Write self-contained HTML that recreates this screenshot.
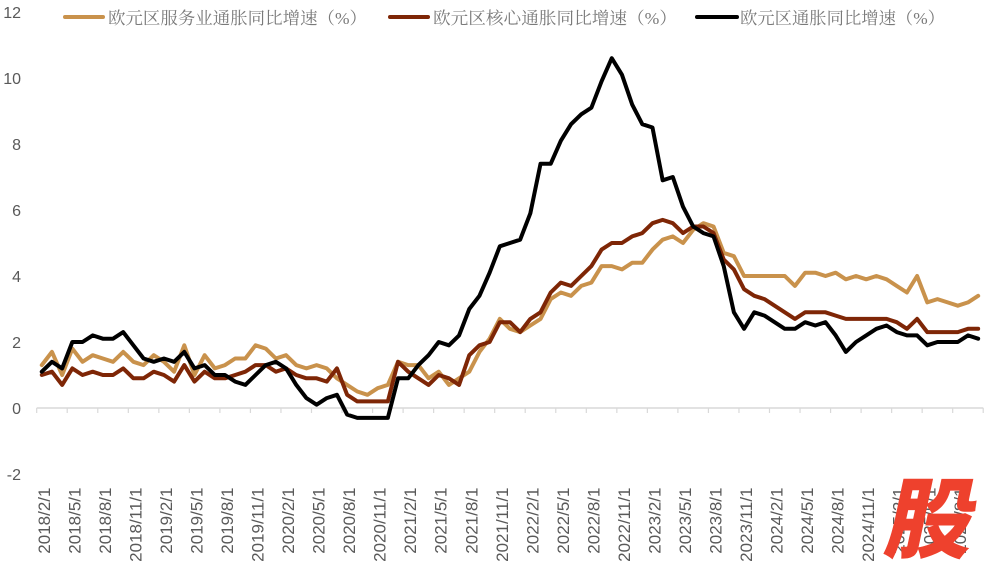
<!DOCTYPE html>
<html>
<head>
<meta charset="utf-8">
<style>
  html, body { margin: 0; padding: 0; background: #ffffff; }
  body { width: 989px; height: 570px; overflow: hidden; }
  svg { display: block; }
</style>
</head>
<body>
<svg width="989" height="570" viewBox="0 0 989 570" xmlns="http://www.w3.org/2000/svg">
  <rect x="0" y="0" width="989" height="570" fill="#ffffff"/>

  <!-- Y axis labels -->
  <g font-family="Liberation Sans, sans-serif" font-size="16" fill="#595959" text-anchor="end">
    <text x="21" y="18">12</text>
    <text x="21" y="84">10</text>
    <text x="21" y="150">8</text>
    <text x="21" y="216">6</text>
    <text x="21" y="282">4</text>
    <text x="21" y="348">2</text>
    <text x="21" y="414">0</text>
    <text x="21" y="480">-2</text>
  </g>

  <!-- X axis line and ticks -->
  <line x1="36.7" y1="408" x2="983.3" y2="408" stroke="#d9d9d9" stroke-width="1.5"/>
  <path stroke="#d9d9d9" stroke-width="1.2" fill="none"
    d="M36.7,408v5 M67.23,408v5 M97.77,408v5 M128.3,408v5 M158.83,408v5 M189.37,408v5 M219.9,408v5 M250.43,408v5 M280.97,408v5 M311.5,408v5 M342.03,408v5 M372.57,408v5 M403.1,408v5 M433.63,408v5 M464.17,408v5 M494.7,408v5 M525.23,408v5 M555.77,408v5 M586.3,408v5 M616.83,408v5 M647.37,408v5 M677.9,408v5 M708.43,408v5 M738.97,408v5 M769.5,408v5 M800.03,408v5 M830.57,408v5 M861.1,408v5 M891.63,408v5 M922.17,408v5 M952.7,408v5 M983.23,408v5"/>

  <!-- X axis labels -->
  <g font-family="Liberation Sans, sans-serif" font-size="17" fill="#595959" text-anchor="end">
    <text transform="translate(49.79,487.5) rotate(-90)">2018/2/1</text>
    <text transform="translate(80.32,487.5) rotate(-90)">2018/5/1</text>
    <text transform="translate(110.86,487.5) rotate(-90)">2018/8/1</text>
    <text transform="translate(141.39,487.5) rotate(-90)">2018/11/1</text>
    <text transform="translate(171.93,487.5) rotate(-90)">2019/2/1</text>
    <text transform="translate(202.46,487.5) rotate(-90)">2019/5/1</text>
    <text transform="translate(232.99,487.5) rotate(-90)">2019/8/1</text>
    <text transform="translate(263.53,487.5) rotate(-90)">2019/11/1</text>
    <text transform="translate(294.06,487.5) rotate(-90)">2020/2/1</text>
    <text transform="translate(324.60,487.5) rotate(-90)">2020/5/1</text>
    <text transform="translate(355.13,487.5) rotate(-90)">2020/8/1</text>
    <text transform="translate(385.66,487.5) rotate(-90)">2020/11/1</text>
    <text transform="translate(416.20,487.5) rotate(-90)">2021/2/1</text>
    <text transform="translate(446.73,487.5) rotate(-90)">2021/5/1</text>
    <text transform="translate(477.27,487.5) rotate(-90)">2021/8/1</text>
    <text transform="translate(507.80,487.5) rotate(-90)">2021/11/1</text>
    <text transform="translate(538.33,487.5) rotate(-90)">2022/2/1</text>
    <text transform="translate(568.87,487.5) rotate(-90)">2022/5/1</text>
    <text transform="translate(599.40,487.5) rotate(-90)">2022/8/1</text>
    <text transform="translate(629.94,487.5) rotate(-90)">2022/11/1</text>
    <text transform="translate(660.47,487.5) rotate(-90)">2023/2/1</text>
    <text transform="translate(691.00,487.5) rotate(-90)">2023/5/1</text>
    <text transform="translate(721.54,487.5) rotate(-90)">2023/8/1</text>
    <text transform="translate(752.07,487.5) rotate(-90)">2023/11/1</text>
    <text transform="translate(782.61,487.5) rotate(-90)">2024/2/1</text>
    <text transform="translate(813.14,487.5) rotate(-90)">2024/5/1</text>
    <text transform="translate(843.67,487.5) rotate(-90)">2024/8/1</text>
    <text transform="translate(874.21,487.5) rotate(-90)">2024/11/1</text>
    <text transform="translate(904.74,487.5) rotate(-90)">2025/2/1</text>
    <text transform="translate(935.28,487.5) rotate(-90)">2025/5/1</text>
    <text transform="translate(965.81,487.5) rotate(-90)">2025/8/1</text>
  </g>

  <!-- Series (data coords: x = month index, y = value) -->
  <g transform="matrix(10.178 0 0 -33 41.79 408)" fill="none" stroke-linejoin="round" stroke-linecap="round">
    <!-- Services -->
    <polyline vector-effect="non-scaling-stroke" stroke="#C9924C" stroke-width="4"
      points="0,1.3 1,1.7 2,1.0 3,1.8 4,1.4 5,1.6 6,1.5 7,1.4 8,1.7 9,1.4 10,1.3 11,1.6 12,1.4 13,1.1 14,1.9 15,1.0 16,1.6 17,1.2 18,1.3 19,1.5 20,1.5 21,1.9 22,1.8 23,1.5 24,1.6 25,1.3 26,1.2 27,1.3 28,1.2 29,0.9 30,0.7 31,0.5 32,0.4 33,0.6 34,0.7 35,1.4 36,1.3 37,1.3 38,0.9 39,1.1 40,0.7 41,0.9 42,1.1 43,1.7 44,2.1 45,2.7 46,2.4 47,2.3 48,2.5 49,2.7 50,3.3 51,3.5 52,3.4 53,3.7 54,3.8 55,4.3 56,4.3 57,4.2 58,4.4 59,4.4 60,4.8 61,5.1 62,5.2 63,5.0 64,5.4 65,5.6 66,5.5 67,4.7 68,4.6 69,4.0 70,4.0 71,4.0 72,4.0 73,4.0 74,3.7 75,4.1 76,4.1 77,4.0 78,4.1 79,3.9 80,4.0 81,3.9 82,4.0 83,3.9 84,3.7 85,3.5 86,4.0 87,3.2 88,3.3 89,3.2 90,3.1 91,3.2 92,3.4"/>
    <!-- Core -->
    <polyline vector-effect="non-scaling-stroke" stroke="#7E2606" stroke-width="4"
      points="0,1.0 1,1.1 2,0.7 3,1.2 4,1.0 5,1.1 6,1.0 7,1.0 8,1.2 9,0.9 10,0.9 11,1.1 12,1.0 13,0.8 14,1.3 15,0.8 16,1.1 17,0.9 18,0.9 19,1.0 20,1.1 21,1.3 22,1.3 23,1.1 24,1.2 25,1.0 26,0.9 27,0.9 28,0.8 29,1.2 30,0.4 31,0.2 32,0.2 33,0.2 34,0.2 35,1.4 36,1.1 37,0.9 38,0.7 39,1.0 40,0.9 41,0.7 42,1.6 43,1.9 44,2.0 45,2.6 46,2.6 47,2.3 48,2.7 49,2.9 50,3.5 51,3.8 52,3.7 53,4.0 54,4.3 55,4.8 56,5.0 57,5.0 58,5.2 59,5.3 60,5.6 61,5.7 62,5.6 63,5.3 64,5.5 65,5.5 66,5.3 67,4.5 68,4.2 69,3.6 70,3.4 71,3.3 72,3.1 73,2.9 74,2.7 75,2.9 76,2.9 77,2.9 78,2.8 79,2.7 80,2.7 81,2.7 82,2.7 83,2.7 84,2.6 85,2.4 86,2.7 87,2.3 88,2.3 89,2.3 90,2.3 91,2.4 92,2.4"/>
    <!-- Headline -->
    <polyline vector-effect="non-scaling-stroke" stroke="#000000" stroke-width="4"
      points="0,1.1 1,1.4 2,1.2 3,2.0 4,2.0 5,2.2 6,2.1 7,2.1 8,2.3 9,1.9 10,1.5 11,1.4 12,1.5 13,1.4 14,1.7 15,1.2 16,1.3 17,1.0 18,1.0 19,0.8 20,0.7 21,1.0 22,1.3 23,1.4 24,1.2 25,0.7 26,0.3 27,0.1 28,0.3 29,0.4 30,-0.2 31,-0.3 32,-0.3 33,-0.3 34,-0.3 35,0.9 36,0.9 37,1.3 38,1.6 39,2.0 40,1.9 41,2.2 42,3.0 43,3.4 44,4.1 45,4.9 46,5.0 47,5.1 48,5.9 49,7.4 50,7.4 51,8.1 52,8.6 53,8.9 54,9.1 55,9.9 56,10.6 57,10.1 58,9.2 59,8.6 60,8.5 61,6.9 62,7.0 63,6.1 64,5.5 65,5.3 66,5.2 67,4.3 68,2.9 69,2.4 70,2.9 71,2.8 72,2.6 73,2.4 74,2.4 75,2.6 76,2.5 77,2.6 78,2.2 79,1.7 80,2.0 81,2.2 82,2.4 83,2.5 84,2.3 85,2.2 86,2.2 87,1.9 88,2.0 89,2.0 90,2.0 91,2.2 92,2.1"/>
  </g>

  <!-- Legend -->
  <g stroke-width="4" stroke-linecap="round">
    <line x1="65" y1="17" x2="103" y2="17" stroke="#C9924C"/>
    <line x1="390" y1="17" x2="428" y2="17" stroke="#7E2606"/>
    <line x1="697" y1="17" x2="737" y2="17" stroke="#000000"/>
  </g>
  <g font-family="Liberation Serif, 'Noto Serif CJK SC', 'Noto Sans CJK SC', serif" font-size="17" fill="#7a7a7a">
    <text x="108" y="24" textLength="259" lengthAdjust="spacingAndGlyphs">欧元区服务业通胀同比增速（%）</text>
    <text x="433" y="24" textLength="244" lengthAdjust="spacingAndGlyphs">欧元区核心通胀同比增速（%）</text>
    <text x="740" y="24" textLength="205" lengthAdjust="spacingAndGlyphs">欧元区通胀同比增速（%）</text>
  </g>

  <!-- Watermark -->
  <g transform="translate(926,551) skewX(-12)">
    <text x="0" y="0" text-anchor="middle" font-family="'Noto Sans CJK SC', 'WenQuanYi Zen Hei', sans-serif" font-size="88" font-weight="900" fill="#EE412D">股</text>
  </g>
</svg>
</body>
</html>
